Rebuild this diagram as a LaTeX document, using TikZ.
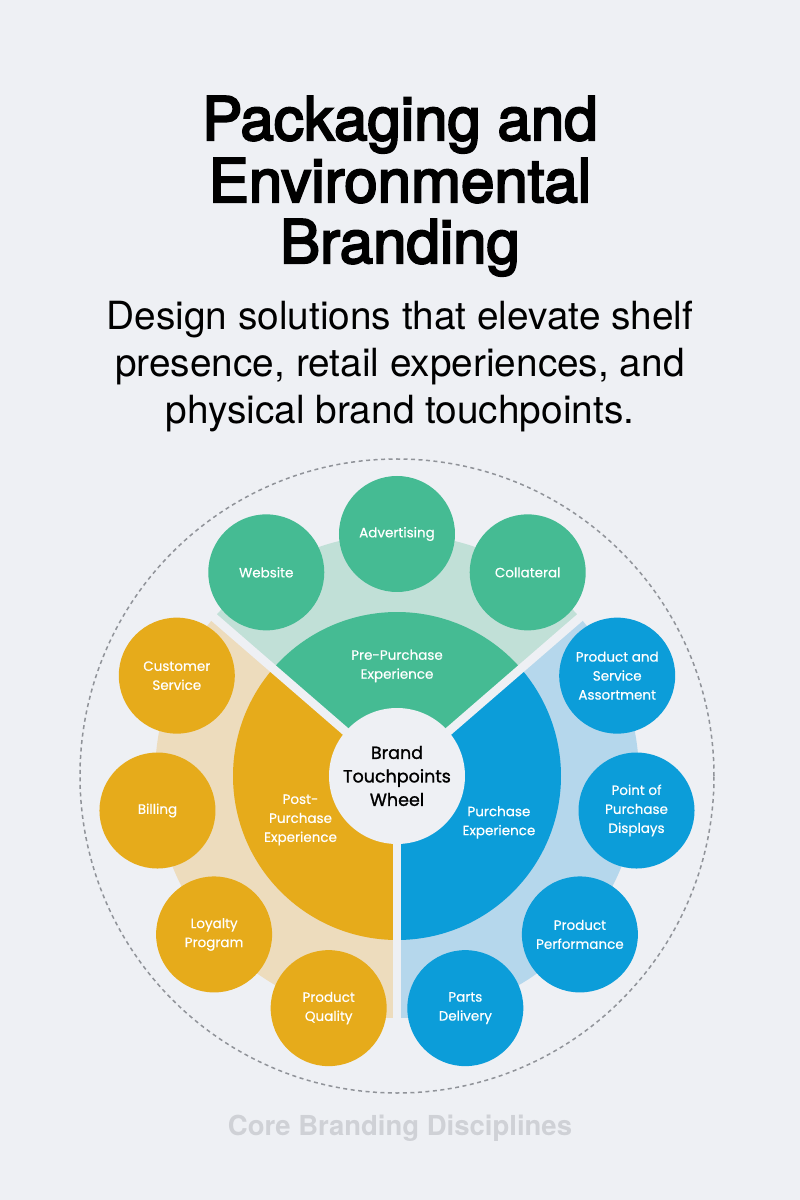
\documentclass[tikz,border=0pt]{standalone}
\usepackage{fontspec}
\setmainfont{TeX Gyre Heros}
\newfontfamily\titlefont[FakeBold=3.5]{TeX Gyre Heros}
\newfontfamily\wheelfont[FakeBold=0.5]{Poppins}
\newfontfamily\hubfont[FakeBold=1.2]{Poppins}
\usetikzlibrary{positioning}
\definecolor{bgcol}{HTML}{EEF0F4}
\definecolor{darkgreen}{HTML}{45BB93}
\definecolor{lightgreen}{HTML}{C1E0D7}
\definecolor{darkorange}{HTML}{E6AB1B}
\definecolor{lightorange}{HTML}{EDDCBD}
\definecolor{darkblue}{HTML}{0C9DD9}
\definecolor{lightblue}{HTML}{B5D7EC}
\definecolor{ringgray}{HTML}{909399}
\definecolor{footgray}{HTML}{CFD1D6}

\begin{document}
\begin{tikzpicture}[x=1pt,y=1pt,
  titleline/.style={anchor=base,font=\titlefont\fontsize{60}{62}\selectfont},
  subline/.style={anchor=base,font=\fontsize{38.8}{47}\selectfont},
  sat/.style={circle,minimum size=116pt,inner sep=0pt,align=center,
    text=white,font=\wheelfont\fontsize{13.5}{19}\selectfont},
  sectorlabel/.style={align=center,text=white,font=\wheelfont\fontsize{13.5}{19}\selectfont},
  hubnode/.style={circle,fill=bgcol,minimum size=136pt,inner sep=0pt,align=center,
    font=\hubfont\fontsize{17.5}{23.5}\selectfont},
  gap/.style={line width=8.5pt,draw=bgcol},
]

% Page
\fill[bgcol] (-397,-424) rectangle (403,776);
\useasboundingbox (-397,-424) rectangle (403,776);

% Heading
\node[titleline] (title1) at (3,636) {Packaging and};
\node[titleline] (title2) at (3,574) {Environmental};
\node[titleline] (title3) at (3,513) {Branding};
\node[subline] (sub1) at (3,446) {Design solutions that elevate shelf};
\node[subline] (sub2) at (3,399) {presence, retail experiences, and};
\node[subline] (sub3) at (3,352) {physical brand touchpoints.};

% Outer ring
\draw[ringgray,line width=1.5pt,dash pattern=on 4pt off 3.5pt] (0,0) circle[radius=317];

% Light bands
\fill[lightgreen] (0,0) -- (40.9:242) arc[start angle=40.9,end angle=139.1,radius=242] -- cycle;
\fill[lightorange] (0,0) -- (139.1:242) arc[start angle=139.1,end angle=270,radius=242] -- cycle;
\fill[lightblue] (0,0) -- (270:242) arc[start angle=270,end angle=400.9,radius=242] -- cycle;

% Stage sectors
\fill[darkgreen] (0,0) -- (40.9:164) arc[start angle=40.9,end angle=139.1,radius=164] -- cycle;
\fill[darkorange] (0,0) -- (139.1:164) arc[start angle=139.1,end angle=270,radius=164] -- cycle;
\fill[darkblue] (0,0) -- (270:164) arc[start angle=270,end angle=400.9,radius=164] -- cycle;

% Gaps between stages
\draw[gap] (0,0) -- (40.9:250);
\draw[gap] (0,0) -- (139.1:250);
\draw[gap] (0,0) -- (270:250);

% Hub
\node[hubnode] (hub) at (0,0) {Brand\\Touchpoints\\Wheel};

% Stage labels
\node[sectorlabel] (prelbl) at (90:110) {Pre-Purchase\\Experience};
\node[sectorlabel] (postlbl) at (204.5:106) {Post-\\Purchase\\Experience};
\node[sectorlabel] (purlbl) at (335.5:112) {Purchase\\Experience};

% Pre-purchase touchpoints
\node[sat,fill=darkgreen] (website) at (122.7:242) {Website};
\node[sat,fill=darkgreen] (advert) at (90:242) {Advertising};
\node[sat,fill=darkgreen] (collat) at (57.3:242) {Collateral};

% Post-purchase touchpoints
\node[sat,fill=darkorange] (custserv) at (155.5:242) {Customer\\Service};
\node[sat,fill=darkorange] (billing) at (188.2:242) {Billing};
\node[sat,fill=darkorange] (loyalty) at (220.9:242) {Loyalty\\Program};
\node[sat,fill=darkorange] (quality) at (253.6:242) {Product\\Quality};

% Purchase touchpoints
\node[sat,fill=darkblue] (parts) at (286.4:242) {Parts\\Delivery};
\node[sat,fill=darkblue] (perform) at (319.1:242) {Product\\Performance};
\node[sat,fill=darkblue] (popdisp) at (351.8:242) {Point of\\Purchase\\Displays};
\node[sat,fill=darkblue] (assort) at (24.5:242) {Product and\\Service\\Assortment};

% Footer
\node[anchor=base,text=footgray,font=\bfseries\fontsize{27.5}{32}\selectfont] (footer) at (3,-359) {Core Branding Disciplines};

\end{tikzpicture}
\end{document}
